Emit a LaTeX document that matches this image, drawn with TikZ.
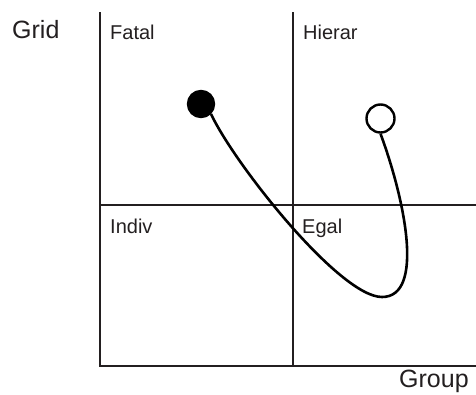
\documentclass[tikz,border=0pt]{standalone}
\usepackage{fontspec}
\setmainfont{Liberation Sans}
\usetikzlibrary{positioning, calc}
\definecolor{inkgray}{RGB}{35,31,32}

\begin{document}
\begin{tikzpicture}[
        x=1pt, y=-1pt,
        axis/.style={draw=inkgray, line width=2.4pt},
        quad/.style={anchor=base west, inner sep=0pt, text=inkgray, font=\fontsize{20}{24}\selectfont},
        axlabel/.style={anchor=base west, inner sep=0pt, text=inkgray, font=\fontsize{25}{30}\selectfont},
        dot/.style={circle, draw=black, line width=2.4pt, minimum size=26pt, inner sep=0pt},
        path/.style={draw=black, line width=2.6pt}
    ]
        \useasboundingbox (0,0) rectangle (476,394);

        % frame and quadrants
        \coordinate (top) at (100,12);
        \coordinate (origin) at (100,366);
        \coordinate (right) at (476,366);
        \coordinate (midtop) at (293,12);
        \coordinate (midbot) at (293,366);
        \coordinate (midleft) at (100,205);
        \coordinate (midright) at (476,205);
        \draw[axis] (top) -- (origin) -- (right);
        \draw[axis] (midtop) -- (midbot);
        \draw[axis] (midleft) -- (midright);

        \node[axlabel] (GRID) at (12,38) {Grid};
        \node[axlabel] (GROUP) at (399,387) {Group};

        \node[quad] (FATAL) at (110,39) {Fatal};
        \node[quad] (HIERAR) at (303,39) {Hierar};
        \node[quad] (INDIV) at (110,233) {Indiv};
        \node[quad] (EGAL) at (302,233) {Egal};

        % trajectory
        \node[dot, fill=black] (START) at (201,104) {};
        \node[dot, fill=white, minimum height=28pt] (END) at (380.5,118.5) {};
        \draw[path] (START.-45) .. controls (235,165) and (340,297) .. (382,297)
            .. controls (425,297) and (405,200) .. (END.south);
    \end{tikzpicture}
\end{document}
